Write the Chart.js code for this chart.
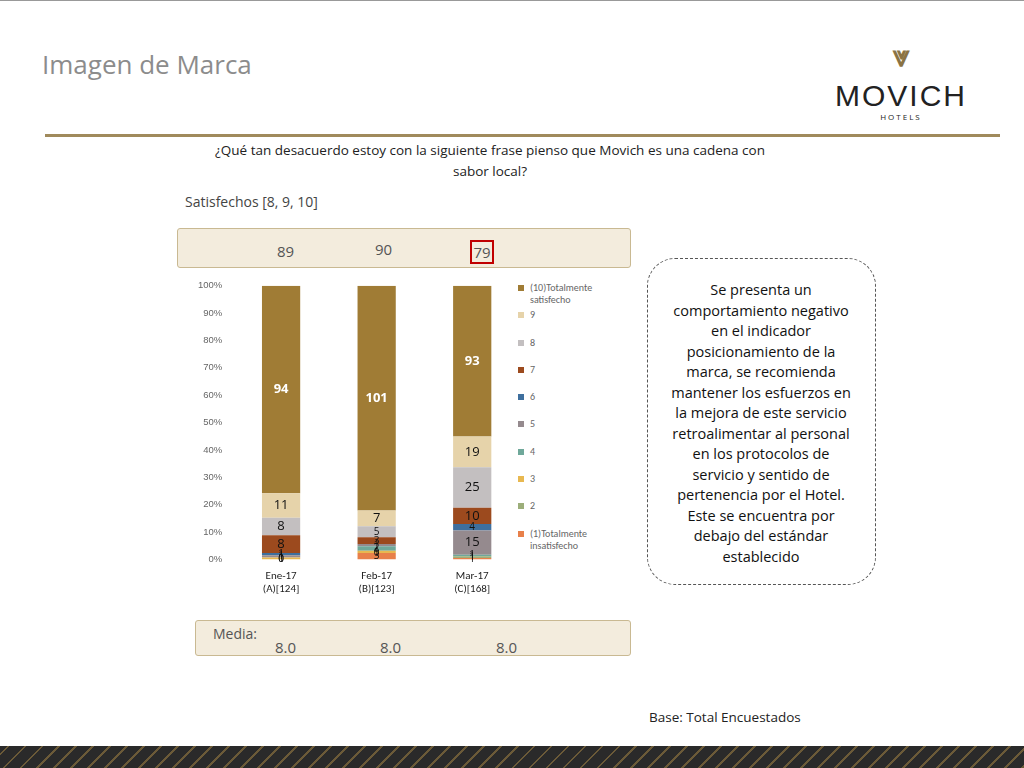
<!DOCTYPE html>
<html><head><meta charset="utf-8">
<script src="https://cdn.jsdelivr.net/npm/chart.js@4"></script>
<style>
body{margin:0;width:1024px;height:768px;position:relative;background:#fff;font-family:"Open Sans",Calibri,sans-serif;overflow:hidden}
.abs{position:absolute}
</style></head><body>
<div class="abs" style="left:0;top:0;width:1024px;height:1px;background:#999"></div>
<div class="abs" style="left:42px;top:46px;font-size:26px;color:#8c8c8c;font-family:'Open Sans'">Imagen de Marca</div>
<div class="abs" style="left:815px;top:38px;width:172px;text-align:center;color:#8a7344;font-size:30px;line-height:34px;font-weight:bold">⩔</div>
<div class="abs" style="left:815px;top:82px;width:172px;text-align:center;font-size:30px;letter-spacing:2px;color:#222;line-height:28px;font-family:'Liberation Sans'">MOVICH</div>
<div class="abs" style="left:815px;top:112px;width:172px;text-align:center;font-size:8px;letter-spacing:2px;color:#222;line-height:9px">HOTELS</div>
<div class="abs" style="left:45px;top:134px;width:955px;height:3px;background:#a08a5c"></div>
<div class="abs" style="left:200px;top:140px;width:580px;text-align:center;font-size:13.5px;line-height:21px;color:#222">¿Qué tan desacuerdo estoy con la siguiente frase pienso que Movich es una cadena con sabor local?</div>
<div class="abs" style="left:185px;top:192px;font-size:14px;color:#444">Satisfechos [8, 9, 10]</div>
<div class="abs" style="left:177px;top:228px;width:452px;height:38px;background:#f3ecdd;border:1px solid #c9b992;border-radius:3px"></div>
<div class="abs" style="left:277px;top:241px;font-size:15px;color:#555">89</div>
<div class="abs" style="left:375px;top:239px;font-size:15px;color:#555">90</div>
<div class="abs" style="left:470px;top:240px;width:20px;height:20px;border:2px solid #c00000;font-size:15px;color:#555;text-align:center;line-height:20px">79</div>
<div class="abs" style="left:195px;top:620px;width:434px;height:34px;background:#f3ecdd;border:1px solid #c9b992;border-radius:3px"></div>
<div class="abs" style="left:213px;top:624px;font-size:14px;color:#555">Media:</div>
<div class="abs" style="left:275px;top:637px;font-size:15px;color:#555">8.0</div>
<div class="abs" style="left:380px;top:637px;font-size:15px;color:#555">8.0</div>
<div class="abs" style="left:496px;top:637px;font-size:15px;color:#555">8.0</div>
<div class="abs" style="left:647px;top:258px;width:227px;height:325px;border:1px dashed #555;border-radius:28px"></div>
<div class="abs" style="left:666px;top:280px;width:190px;text-align:center;font-size:14.5px;line-height:20.5px;color:#111">Se presenta un comportamiento negativo en el indicador posicionamiento de la marca, se recomienda mantener los esfuerzos en la mejora de este servicio retroalimentar al personal en los protocolos de servicio y sentido de pertenencia por el Hotel. Este se encuentra por debajo del estándar establecido</div>
<div class="abs" style="left:649px;top:708px;font-size:13.5px;color:#222">Base: Total Encuestados</div>
<div class="abs" style="left:0;top:746px;width:1024px;height:22px;background:repeating-linear-gradient(135deg,#2a2a2a 0 5px,#6b5a38 5px 7px,#2a2a2a 7px 12px)"></div>
<div id="leg" class="abs" style="left:518px;top:282px;width:100px;font-size:10px;color:#666;font-family:Calibri,'Liberation Sans',sans-serif"></div>
<div class="abs" style="left:195px;top:277px;width:325px;height:321px"><canvas id="c"></canvas></div>
<script>
const categories=[["Ene-17","(A)[124]"],["Feb-17","(B)[123]"],["Mar-17","(C)[168]"]];
const seriesNames=["(1)Totalmente insatisfecho","2","3","4","5","6","7","8","9","(10)Totalmente satisfecho"];
const s1=[0,3,1], s2=[0,0,1], s3=[1,1,0], s4=[0,2,1], s5=[1,1,15], s6=[1,0,4], s7=[8,3,10], s8=[8,5,25], s9=[11,7,19], s10=[94,101,93];
const colors=["#e8804a","#9cae7a","#e8b850","#6fa89a","#958a8e","#3e6f9e","#9c4a1e","#c3bfc0","#e6d3aa","#a07c35"];
const counts=[s1,s2,s3,s4,s5,s6,s7,s8,s9,s10];
const totals=categories.map((_,i)=>counts.reduce((a,s)=>a+s[i],0));
const datasets=counts.map((s,k)=>({label:seriesNames[k],data:s.map((v,i)=>v/totals[i]*100),raw:s,backgroundColor:colors[k],barPercentage:0.4,categoryPercentage:1}));
const leg=document.getElementById('leg');
for(let k=9;k>=0;k--){leg.innerHTML+=`<div style="height:27.3px;position:relative;padding-left:12px;line-height:12px"><span style="position:absolute;left:0;top:3px;width:6px;height:6px;background:${colors[k]}"></span>${seriesNames[k]}</div>`;}
const lbl={id:'lbl',afterDatasetsDraw(ch){const c=ch.ctx;c.save();c.textAlign='center';c.textBaseline='middle';
ch.data.datasets.forEach((d,k)=>{ch.getDatasetMeta(k).data.forEach((b,i)=>{const v=d.raw[i];const h=Math.abs(b.base-b.y);
const big=h>12;c.font=(k==9?'bold ':'')+(big?'13px':'10px')+' "Open Sans"';c.fillStyle=k==9?'#fff':'#111';
if(v>0||k<2)c.fillText(v,b.x,(b.y+b.base)/2);});});c.restore();}};
new Chart(document.getElementById('c'),{type:'bar',data:{labels:categories,datasets},plugins:[lbl],
options:{responsive:true,maintainAspectRatio:false,animation:false,layout:{padding:{top:8,right:0}},
plugins:{legend:{display:false},tooltip:{enabled:false}},
scales:{x:{stacked:true,grid:{display:false},border:{display:false},ticks:{color:'#222',padding:2,font:{size:11,family:'Calibri, Liberation Sans'}}},
y:{stacked:true,min:0,max:100,ticks:{stepSize:10,callback:v=>v+'%',color:'#666',font:{size:9.5}},grid:{display:false},border:{display:false}}}}});
</script></body></html>
